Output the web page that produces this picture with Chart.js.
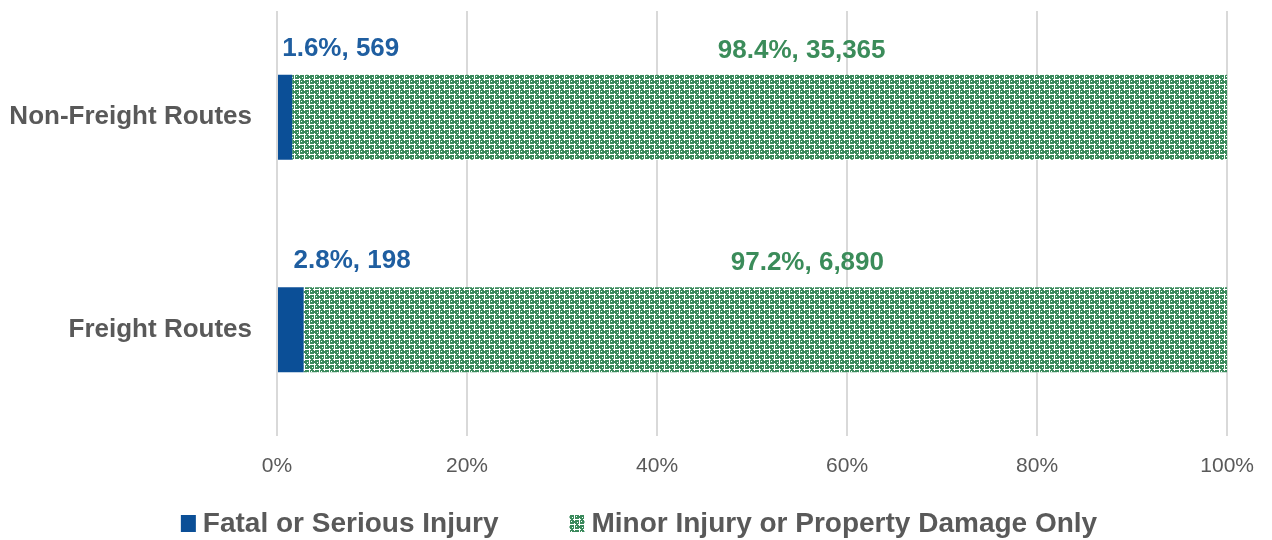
<!DOCTYPE html>
<html>
<head>
<meta charset="utf-8">
<script src="https://cdn.jsdelivr.net/npm/chart.js@4.4.1/dist/chart.umd.min.js"></script>
<style>
  html, body { margin: 0; padding: 0; background: #fff; }
  #wrap { width: 1272px; height: 540px; }
</style>
</head>
<body>
<div id="wrap"><canvas id="crash-chart" width="1272" height="540"></canvas></div>
<script>
// data
const routes = ['Non-Freight Routes', 'Freight Routes'];
const fatalPct = [1.6, 2.8];
const fatalCount = [569, 198];
const minorPct = [98.4, 97.2];
const minorCount = [35365, 6890];
const xTicks = [0, 20, 40, 60, 80, 100];
const seriesNames = ['Fatal or Serious Injury', 'Minor Injury or Property Damage Only'];

const blue = '#0b4f97';
const blueText = '#1f5ea0';
const green = '#3a8a5c';
const greenText = '#3b8c5a';
const grey = '#595959';

// green lattice fill like the excel pattern
function makePattern() {
    const c = document.createElement('canvas');
    c.width = 10; c.height = 10;
    const g = c.getContext('2d');
    g.fillStyle = '#ffffff';
    g.fillRect(0, 0, 10, 10);
    g.fillStyle = green;
    g.fillRect(0, 0, 4, 4);
    g.fillRect(5, 0, 4, 4);
    g.fillRect(0, 5, 4, 4);
    g.fillRect(5, 5, 4, 4);
    g.fillRect(4, 1, 1, 2);
    g.fillRect(1, 9, 2, 1);
    g.fillRect(9, 6, 1, 2);
    g.fillRect(6, 4, 2, 1);
    g.fillStyle = '#ffffff';
    g.fillRect(1, 1, 1, 1);
    g.fillRect(7, 2, 1, 1);
    g.fillRect(2, 7, 1, 1);
    g.fillRect(6, 6, 1, 1);
    return g.createPattern(c, 'repeat');
}

const ctx = document.getElementById('crash-chart').getContext('2d');
const greenPattern = makePattern();

const fmt = n => n.toLocaleString('en-US');

// value labels above each bar segment
const barLabels = {
    id: 'barLabels',
    afterDatasetsDraw(chart) {
        const c = chart.ctx;
        c.save();
        c.font = 'bold 26px "Liberation Sans", Arial, sans-serif';
        c.textBaseline = 'middle';
        const m0 = chart.getDatasetMeta(0);
        const m1 = chart.getDatasetMeta(1);
        for (let i = 0; i < routes.length; i++) {
            const b0 = m0.data[i];
            const b1 = m1.data[i];
            const top = b0.y - b0.height / 2;
            c.fillStyle = blueText;
            c.textAlign = 'left';
            c.fillText(fatalPct[i].toFixed(1) + '%, ' + fmt(fatalCount[i]), b0.x - 10, top - 26);
            c.fillStyle = greenText;
            c.textAlign = 'center';
            const mid = (b1.base + b1.x) / 2;
            c.fillText(minorPct[i].toFixed(1) + '%, ' + fmt(minorCount[i]), mid + 42, top - 24);
        }
        c.restore();
    }
};

// bottom legend with wide gap between the two entries
const bottomLegend = {
    id: 'bottomLegend',
    afterDraw(chart) {
        const c = chart.ctx;
        c.save();
        c.font = 'bold 28px "Liberation Sans", Arial, sans-serif';
        c.textBaseline = 'middle';
        c.textAlign = 'left';
        const fills = [blue, greenPattern];
        const gap = 71, box = 15, boxGap = 7;
        const widths = seriesNames.map(s => box + boxGap + c.measureText(s).width);
        const total = widths[0] + gap + widths[1];
        let x = (chart.width - total) / 2 + 3;
        const y = 523;
        for (let i = 0; i < seriesNames.length; i++) {
            c.fillStyle = fills[i];
            c.fillRect(x, y - 8, box, 17);
            c.fillStyle = grey;
            c.fillText(seriesNames[i], x + box + boxGap, y + 1);
            x += widths[i] + gap;
        }
        c.restore();
    }
};

const crashChart = new Chart(ctx, {
    type: 'bar',
    data: {
        labels: routes,
        datasets: [
            {
                label: seriesNames[0],
                data: fatalPct,
                backgroundColor: blue,
                borderWidth: 0,
                categoryPercentage: 0.4,
                barPercentage: 1
            },
            {
                label: seriesNames[1],
                data: minorPct,
                backgroundColor: greenPattern,
                borderWidth: 0,
                categoryPercentage: 0.4,
                barPercentage: 1
            }
        ]
    },
    options: {
        indexAxis: 'y',
        responsive: false,
        animation: false,
        layout: { padding: { left: 0, right: 44, top: 11, bottom: 54 } },
        scales: {
            x: {
                stacked: true,
                min: 0,
                max: 100,
                afterBuildTicks: axis => { axis.ticks = xTicks.map(v => ({ value: v })); },
                afterFit: axis => { axis.height = 50; },
                grid: { color: '#d9d9d9', lineWidth: 2, drawTicks: false },
                border: { display: false },
                ticks: {
                    padding: 18,
                    color: grey,
                    font: { family: '"Liberation Sans", Arial, sans-serif', size: 21 },
                    callback: v => v + '%'
                }
            },
            y: {
                stacked: true,
                afterFit: axis => {
                    axis.width = 277;
                    axis.paddingTop = 0;
                    axis.paddingBottom = 0;
                },
                grid: { display: false, drawTicks: false },
                border: { display: false },
                ticks: {
                    padding: 25,
                    color: grey,
                    font: { family: '"Liberation Sans", Arial, sans-serif', size: 26, weight: 'bold' }
                }
            }
        },
        plugins: {
            legend: { display: false },
            tooltip: { enabled: false }
        }
    },
    plugins: [barLabels, bottomLegend]
});
</script>
</body>
</html>
